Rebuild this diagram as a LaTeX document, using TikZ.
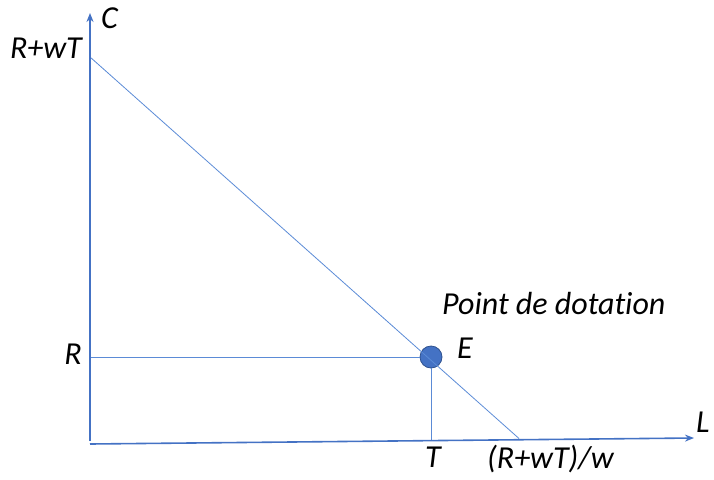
\documentclass[tikz,border=0pt]{standalone}
\usepackage{fontspec}
\setmainfont[Ligatures=NoCommon]{Carlito}
\usetikzlibrary{arrows.meta}
\definecolor{axisblue}{HTML}{4472C4}
\definecolor{lineblue}{HTML}{5B8BD6}
\definecolor{dotedge}{HTML}{2F528F}
\tikzset{
  axis/.style={draw=axisblue, line width=1.6pt, -{Stealth[length=9pt,width=7pt]}},
  thin/.style={draw=lineblue, line width=0.8pt},
  lbl/.style={inner sep=0pt, font=\fontsize{32}{38}\selectfont\itshape, text=black},
}
\begin{document}
\begin{tikzpicture}[x=1pt,y=-1pt]
\useasboundingbox (0,0) rectangle (714,479);
\coordinate (Ybot) at (90,441);
\coordinate (Ctip) at (90,13);
\coordinate (Xleft) at (90,444);
\coordinate (Ltip) at (694,438);
\coordinate (Top) at (90,57);
\coordinate (Bot) at (519,438.5);
\coordinate (Rpt) at (90,357);
\coordinate (Tpt) at (431,441);
\node[circle, fill=axisblue, draw=dotedge, line width=0.8pt, minimum size=22pt, inner sep=0pt] (E) at (431,357) {};
\draw[thin] (Top) -- (Bot);
\draw[thin] (Rpt) -- (E.west);
\draw[thin] (E.south) -- (Tpt);
\draw[axis] (Ybot) -- (Ctip);
\draw[axis] (Xleft) -- (Ltip);
\node[lbl, anchor=base west] (C) at (101,28) {C};
\node[lbl, anchor=base east] (RwT) at (82,58) {R+wT};
\node[lbl, anchor=base east] (R) at (82,364) {R};
\node[lbl, anchor=base west] (El) at (457,358) {E};
\node[lbl, anchor=base west] (PD) at (442,314) {Point de dotation};
\node[lbl, anchor=base] (T) at (433,467) {T};
\node[lbl, anchor=base west] (RwTw) at (487,468) {(R+wT)/w};
\node[lbl, anchor=base west] (L) at (696,432) {L};
\end{tikzpicture}
\end{document}
